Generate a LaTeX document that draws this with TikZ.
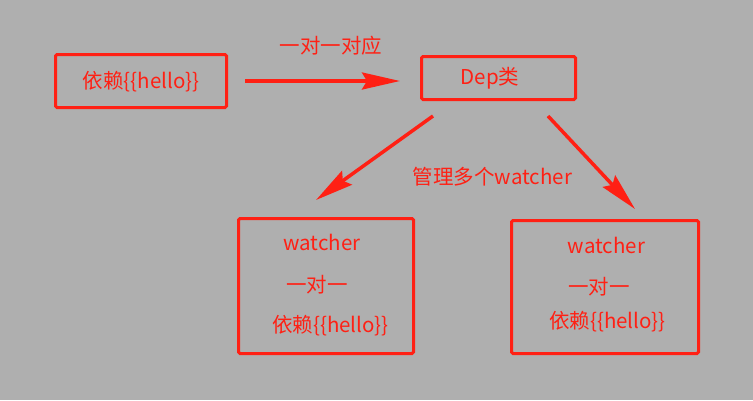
\documentclass[tikz,border=0pt]{standalone}
\usepackage{fontspec}
\setmainfont{Noto Sans CJK SC}
\usetikzlibrary{arrows.meta,calc}
\definecolor{rojo}{RGB}{255,32,20}
\definecolor{fondo}{RGB}{175,175,175}
\begin{document}
\begin{tikzpicture}[x=1pt,y=-1pt,
    caja/.style={draw=rojo,line width=3pt,rounded corners=1.5pt,inner sep=0pt},
    texto/.style={text=rojo,font=\fontsize{20.5}{24}\selectfont,inner sep=0pt},
    flecha/.style={rojo,line width=3.5pt,-{Stealth[length=38pt,width=17pt,inset=5pt]}}]

    \fill[fondo] (0,0) rectangle (753,400);
    \useasboundingbox (0,0) rectangle (753,400);

    %Cajas
    \node[caja,minimum width=171pt,minimum height=53pt] (dep1) at (141,81) {};
    \node[caja,minimum width=154pt,minimum height=43pt] (dep) at (498.5,78) {};
    \node[caja,minimum width=175pt,minimum height=135pt] (w1) at (326,286) {};
    \node[caja,minimum width=187pt,minimum height=133pt] (w2) at (605,287) {};

    %Textos
    \node[texto] (t1) at (141,82) {依赖\{\{hello\}\}};
    \node[texto] (t2) at (331,46) {一对一对应};
    \node[texto] (t3) at (490,78) {Dep类};
    \node[texto] (t4) at (492.5,177) {管理多个watcher};
    \node[texto] (w1a) at (322,242) {watcher};
    \node[texto] (w1b) at (317,285) {一对一};
    \node[texto] (w1c) at (330.5,326) {依赖\{\{hello\}\}};
    \node[texto] (w2a) at (606.5,245) {watcher};
    \node[texto] (w2b) at (599,287) {一对一};
    \node[texto] (w2c) at (607.5,322) {依赖\{\{hello\}\}};

    %Flechas
    \coordinate (s1) at ($(dep.south west)+(13,15)$);
    \coordinate (e1) at ($(w1.north)+(-10,-17)$);
    \coordinate (s2) at ($(dep.south east)+(-29,15)$);
    \coordinate (e2) at ($(w2.north)+(30,-10)$);
    \draw[flecha,shorten <=17pt,shorten >=20pt] (dep1.east) -- (dep1.east -| dep.west);
    \draw[flecha] (s1) -- (e1);
    \draw[flecha] (s2) -- (e2);

\end{tikzpicture}
\end{document}
